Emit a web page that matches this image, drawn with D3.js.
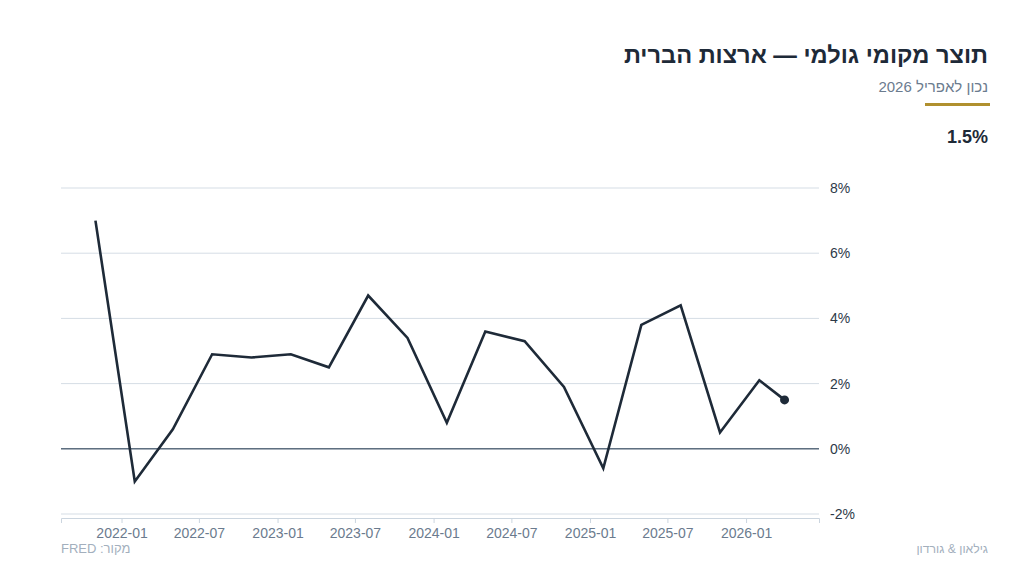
<!DOCTYPE html>
<html lang="he">
<head>
<meta charset="utf-8">
<script src="https://cdn.jsdelivr.net/npm/d3@7"></script>
<style>
  html, body { margin: 0; padding: 0; background: #fff; }
  svg { display: block; font-family: "Liberation Sans", Arial, sans-serif; }
  .grid line { stroke: #d5dde5; stroke-width: 1; }
  .axis--x path, .axis--x line { stroke: #cbd5df; }
  .axis--x text { fill: #6b7b8e; font-size: 14px; }
  .axis--y text { fill: #2d3a48; font-size: 14px; }
</style>
</head>
<body>
<svg id="chart" width="1024" height="576"></svg>
<script>
/* quarterly GDP growth, annualised % (points plotted at first of month) */
var dates = ["2021-11-01", "2022-02-01", "2022-05-01", "2022-08-01", "2022-11-01",
             "2023-02-01", "2023-05-01", "2023-08-01", "2023-11-01", "2024-02-01",
             "2024-05-01", "2024-08-01", "2024-11-01", "2025-02-01", "2025-05-01",
             "2025-08-01", "2025-11-01", "2026-02-01", "2026-04-01"];
var values = [7.0, -1.0, 0.6, 2.9, 2.8, 2.9, 2.5, 4.7, 3.4, 0.8,
              3.6, 3.3, 1.9, -0.6, 3.8, 4.4, 0.5, 2.1, 1.5];
var yTicks = [-2, 0, 2, 4, 6, 8];
var xTicks = ["2022-01-01", "2022-07-01", "2023-01-01", "2023-07-01", "2024-01-01",
              "2024-07-01", "2025-01-01", "2025-07-01", "2026-01-01"];

var title = "תוצר מקומי גולמי — ארצות הברית";
var subtitle = "נכון לאפריל 2026";
var latest = "1.5%";
var source = "מקור: FRED";
var brand = "גילאון & גורדון";

var parseDate = d3.timeParse("%Y-%m-%d");
var data = dates.map(function(d, i) { return {date: parseDate(d), value: values[i]}; });

var svg = d3.select("#chart");

var margin = {top: 188, right: 205, bottom: 62, left: 61},
    width = 1024 - margin.left - margin.right,
    height = 576 - margin.top - margin.bottom;

var g = svg.append("g")
    .attr("transform", "translate(" + margin.left + "," + margin.top + ")");

/* 5% padding on both sides of the time extent */
var ext = d3.extent(data, function(d) { return d.date; });
var pad = (ext[1] - ext[0]) * 0.05;
var x = d3.scaleTime()
    .domain([new Date(+ext[0] - pad), new Date(+ext[1] + pad)])
    .range([0, width]);

var y = d3.scaleLinear()
    .domain([-2, 8])
    .range([height, 0]);

/* horizontal gridlines */
g.append("g")
    .attr("class", "grid")
  .selectAll("line")
  .data(yTicks)
  .enter().append("line")
    .attr("x1", 0)
    .attr("x2", width)
    .attr("y1", function(d) { return y(d); })
    .attr("y2", function(d) { return y(d); });

/* zero line */
g.append("line")
    .attr("x1", 0)
    .attr("x2", width)
    .attr("y1", y(0))
    .attr("y2", y(0))
    .attr("stroke", "#5e6f80")
    .attr("stroke-width", 1.6);

/* x axis sits a few px under the plot */
g.append("g")
    .attr("class", "axis axis--x")
    .attr("transform", "translate(0," + (height + 4) + ")")
    .call(d3.axisBottom(x)
      .tickValues(xTicks.map(parseDate))
      .tickFormat(d3.timeFormat("%Y-%m"))
      .tickSizeOuter(0)
      .tickSize(5)
      .tickPadding(5));

/* y axis on the right, labels only */
var yAxis = g.append("g")
    .attr("class", "axis axis--y")
    .attr("transform", "translate(" + (width + 11) + ",0)")
    .call(d3.axisRight(y)
      .tickValues(yTicks)
      .tickFormat(function(d) { return d + "%"; })
      .tickSize(0)
      .tickPadding(0));
yAxis.select(".domain").remove();

var line = d3.line()
    .x(function(d) { return x(d.date); })
    .y(function(d) { return y(d.value); });

g.append("path")
    .datum(data)
    .attr("fill", "none")
    .attr("stroke", "#1e2a38")
    .attr("stroke-width", 2.6)
    .attr("stroke-linejoin", "miter")
    .attr("d", line);

var last = data[data.length - 1];
g.append("circle")
    .attr("cx", x(last.date))
    .attr("cy", y(last.value))
    .attr("r", 4.5)
    .attr("fill", "#1e2a38");

/* header, right aligned */
svg.append("text")
    .attr("x", 988)
    .attr("y", 63)
    .attr("direction", "rtl")
    .attr("text-anchor", "start")
    .attr("font-size", 23.6)
    .attr("font-weight", "bold")
    .attr("fill", "#1e2a38")
    .text(title);

svg.append("text")
    .attr("x", 988)
    .attr("y", 92)
    .attr("direction", "rtl")
    .attr("text-anchor", "start")
    .attr("font-size", 15)
    .attr("fill", "#6b7b8e")
    .text(subtitle);

svg.append("rect")
    .attr("x", 925)
    .attr("y", 103)
    .attr("width", 65)
    .attr("height", 3)
    .attr("fill", "#b0902f");

svg.append("text")
    .attr("x", 988)
    .attr("y", 143)
    .attr("text-anchor", "end")
    .attr("font-size", 18)
    .attr("font-weight", "bold")
    .attr("fill", "#1e2a38")
    .text(latest);

/* footer */
svg.append("text")
    .attr("x", 61)
    .attr("y", 553)
    .attr("direction", "rtl")
    .attr("text-anchor", "end")
    .attr("font-size", 13)
    .attr("fill", "#a3afbd")
    .text(source);

svg.append("text")
    .attr("x", 988)
    .attr("y", 553)
    .attr("direction", "rtl")
    .attr("text-anchor", "start")
    .attr("font-size", 12.2)
    .attr("fill", "#a3afbd")
    .text(brand);
</script>
</body>
</html>
